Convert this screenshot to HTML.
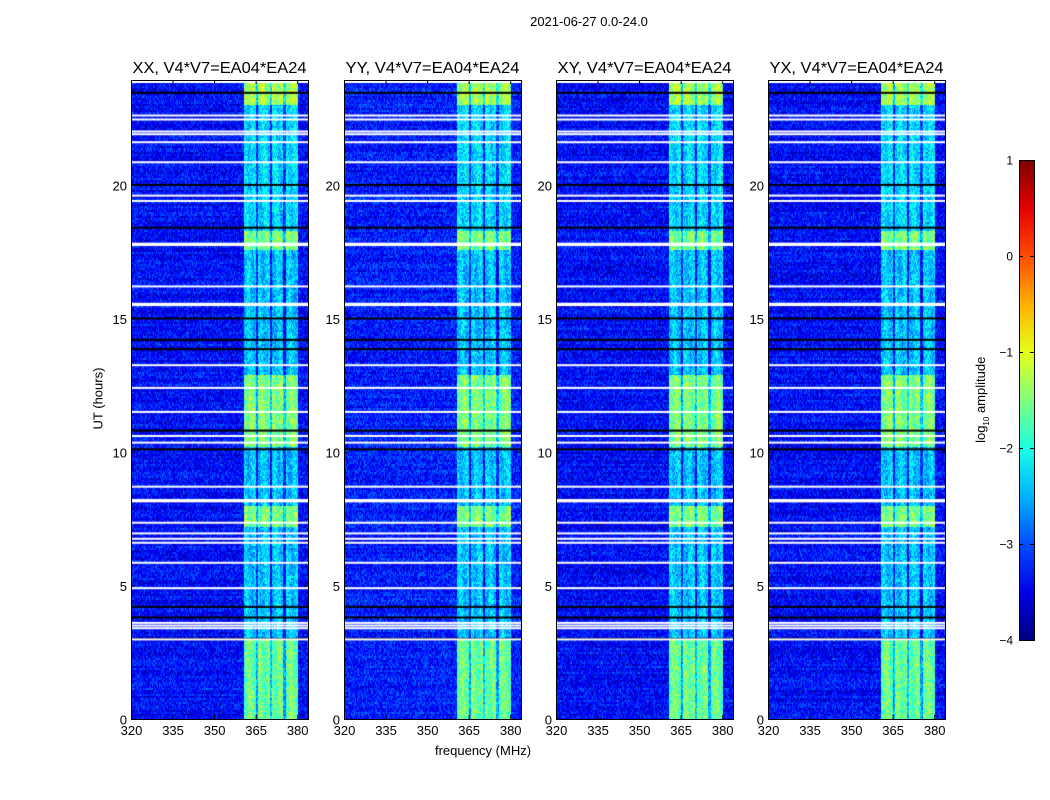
<!DOCTYPE html>
<html><head><meta charset="utf-8">
<style>
body{margin:0;background:#fff;width:1050px;height:800px;overflow:hidden;position:relative;font-family:"Liberation Sans",sans-serif;}
.t{position:absolute;white-space:nowrap;color:#000;}
canvas{position:absolute;}
</style></head><body>
<div class="t" style="left:0;width:1178px;top:14px;text-align:center;font-size:13px">2021-06-27 0.0-24.0</div>
<div class="t" style="left:383px;width:200px;top:743px;text-align:center;font-size:13px">frequency (MHz)</div>
<div class="t" style="left:48px;top:391px;width:100px;text-align:center;font-size:13px;transform:rotate(-90deg)">UT (hours)</div>
<div class="t" style="left:922px;top:391px;width:120px;text-align:center;font-size:13px;transform:rotate(-90deg)">log<sub style="font-size:8px">10</sub> amplitude</div>
<svg id="ov" width="1050" height="800" style="position:absolute;left:0;top:0"></svg>
<script>
const panelTitles=["XX, V4*V7=EA04*EA24","YY, V4*V7=EA04*EA24","XY, V4*V7=EA04*EA24","YX, V4*V7=EA04*EA24"];
const panelLefts=[131,344,556,768];
const xTicks=[320,335,350,365,380];
const yTicks=[0,5,10,15,20];
const cbTicks=[1,0,-1,-2,-3,-4];
const backgroundLevel=[-3.35,-3.25,-3.35,-3.35];
const bandStart=360.5, bandEnd=380;
const bandGaps=[365.3,370.3,375.3];
const bandSegStart=[0,3,7.2,8.0,10.2,12.9,17.6,18.3,23.0];
const bandSegEnd=[3,7.2,8.0,10.2,12.9,17.6,18.3,23.0,23.9];
const bandSegLevel=[-1.6,-2.4,-1.5,-2.4,-1.5,-2.4,-1.5,-2.3,-1.3];
const flaggedTimes=[22.6,22.45,22.0,21.9,21.6,20.85,19.6,19.4,17.8,17.75,16.2,15.55,15.5,13.25,12.4,11.5,10.6,10.35,8.7,8.2,8.15,7.35,6.95,6.75,6.6,5.85,4.9,3.6,3.5,3.4,2.98];
const blackTimes=[23.45,20.0,18.4,15.0,14.2,13.85,10.8,10.1,4.2,3.8,3.0];
const X0=320,PXMHZ=2.77,TOP=80,BOT=719,W=177,H=639,CB=[1019,160,15,480];
const ns="http://www.w3.org/2000/svg";
const ov=document.getElementById('ov');
function jet(v){let t=Math.max(0,Math.min(1,(v+4)/5));
 const f=x=>Math.max(0,Math.min(1,1.5-Math.abs(4*t-x)));
 return [f(3)*255|0,f(2)*255|0,f(1)*255|0];}
function hash(a,b,c){let h=(a*374761393+b*668265263+c*2147483647)|0;h=(h^(h>>>13))*1274126177|0;return ((h^(h>>>16))>>>0)/4294967296;}
const yOf=t=>BOT-(t/24)*H*24/23.93;
function add(tag,attrs,parent){const e=document.createElementNS(ns,tag);for(const k in attrs)e.setAttribute(k,attrs[k]);(parent||ov).appendChild(e);return e;}
panelLefts.forEach((L,p)=>{
 const cv=document.createElement('canvas');cv.width=W;cv.height=H;
 cv.style.left=L+'px';cv.style.top=TOP+'px';
 
 
 document.body.insertBefore(cv,ov);
 const ctx=cv.getContext('2d');const img=ctx.createImageData(W,H);
 for(let y=0;y<H;y++){
  const t=(BOT-TOP-y)/H*23.93;
  let lvl=bandSegLevel[bandSegLevel.length-1];
  for(let i=0;i<bandSegStart.length;i++)if(t>=bandSegStart[i]&&t<bandSegEnd[i])lvl=bandSegLevel[i];
  const ry=y>>1;
  for(let x=0;x<W;x++){
   const f=X0+x/PXMHZ;
   const r=hash(x,ry,p);
   let v=backgroundLevel[p]+(r-0.5)*0.8+(hash(0,ry,p)-0.5)*0.25;
   if(f>=bandStart&&f<=bandEnd){
    let b=lvl+(hash(x,ry,p+7)-0.5)*0.8+Math.sin(f*1.7+t*0.5)*0.15;
    for(const g of bandGaps)if(Math.abs(f-g)<0.45)b-=0.9;
    v=b;
   }
   const c=jet(v);const k=(y*W+x)*4;
   img.data[k]=c[0];img.data[k+1]=c[1];img.data[k+2]=c[2];img.data[k+3]=255;
  }
 }
 ctx.putImageData(img,0,0);
 for(const t of blackTimes){ctx.fillStyle='#000';ctx.fillRect(0,yOf(t)-TOP-1,W,2);}
 for(const t of flaggedTimes){ctx.fillStyle='#fff';ctx.fillRect(0,yOf(t)-TOP-1,W,2);}
 ctx.fillStyle='#fff';ctx.fillRect(0,0,W,3);
 const fr=add('rect',{x:L+0.5,y:TOP+0.5,width:W,height:H,fill:'none',stroke:'#000','stroke-width':1});
 
 const ti=add('text',{x:L+W/2,y:TOP-7,'text-anchor':'middle','font-size':15.5,'font-family':'Liberation Sans, sans-serif',textLength:174,lengthAdjust:'spacingAndGlyphs'});
 ti.textContent=panelTitles[p];
 
 xTicks.forEach(v=>{const x=L+(v-X0)*PXMHZ+0.5;
  add('line',{x1:x,x2:x,y1:BOT,y2:BOT-4,stroke:'#000'});add('line',{x1:x,x2:x,y1:TOP,y2:TOP+4,stroke:'#000'});
  const tx=add('text',{x:x,y:BOT+16,'text-anchor':'middle','font-size':13,'font-family':'Liberation Sans, sans-serif'});
  tx.textContent=v;});
 yTicks.forEach(v=>{const y=yOf(v)+0.5;
  add('line',{x1:L,x2:L+4,y1:y,y2:y,stroke:'#000'});add('line',{x1:L+W,x2:L+W-4,y1:y,y2:y,stroke:'#000'});
  const tx=add('text',{x:L-4,y:y+5,'text-anchor':'end','font-size':13,'font-family':'Liberation Sans, sans-serif'});
  tx.textContent=v;});
});
const defs=add('defs',{});const lg=add('linearGradient',{id:'jg',x1:0,y1:1,x2:0,y2:0},defs);
for(let i=0;i<=10;i++){const c=jet(-4+i*0.5);add('stop',{offset:i/10,'stop-color':`rgb(${c})`},lg);}
const cb=add('rect',{x:CB[0]+0.5,y:CB[1]+0.5,width:CB[2],height:CB[3],fill:'url(#jg)',stroke:'#000'});

cbTicks.forEach(v=>{const y=CB[1]+(1-v)/5*CB[3]+0.5;
 add('line',{x1:CB[0],x2:CB[0]+4,y1:y,y2:y,stroke:'#000'});add('line',{x1:CB[0]+CB[2],x2:CB[0]+CB[2]-4,y1:y,y2:y,stroke:'#000'});
 const tx=add('text',{x:1013,y:y+4,'text-anchor':'end','font-size':12,'font-family':'Liberation Sans, sans-serif'});
 tx.textContent=v<0?'\u2212'+(-v):v;});
</script>
</body></html>
